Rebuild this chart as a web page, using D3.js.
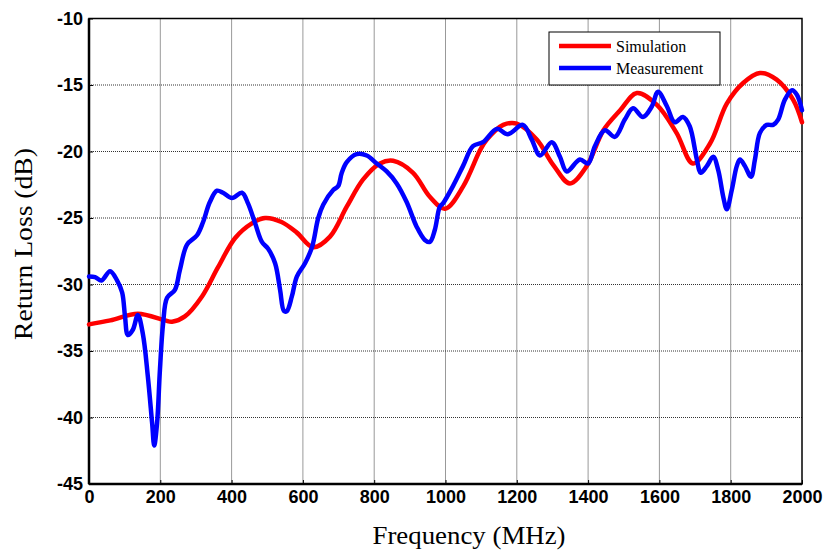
<!DOCTYPE html>
<html>
<head>
<meta charset="utf-8">
<script src="https://cdn.jsdelivr.net/npm/d3@7"></script>
<style>
  body { margin: 0; background: #fff; }
  .tick text { font-family: "Liberation Sans", Arial, sans-serif; font-weight: bold; font-size: 18px; fill: #000; }
</style>
</head>
<body>
<div id="chart"></div>
<script>
// simulated return loss (MHz, dB)
var simFreq = [0, 60, 137, 213, 233, 269, 317, 362, 410, 457, 494, 540, 583, 629, 676, 723, 769, 816, 853, 909, 956, 999, 1050, 1097, 1116, 1162, 1200, 1256, 1302, 1349, 1396, 1443, 1490, 1537, 1593, 1648, 1694, 1742, 1789, 1835, 1882, 1929, 1975, 2000];
var simDb = [-33.0, -32.7, -32.2, -32.7, -32.8, -32.4, -30.9, -28.7, -26.5, -25.4, -25.0, -25.3, -26.1, -27.2, -26.4, -24.15, -22.1, -20.9, -20.7, -21.6, -23.4, -24.3, -22.6, -19.9, -19.1, -18.0, -17.9, -19.1, -21.0, -22.4, -21.1, -18.4, -16.9, -15.6, -16.5, -18.6, -20.9, -19.4, -16.4, -14.85, -14.1, -14.6, -16.1, -17.8];

// measured return loss (MHz, dB)
var measFreq = [0, 17, 35, 59, 79, 93, 101, 109, 123, 137, 151, 165, 177, 183, 191, 199, 208, 219, 241, 255, 275, 303, 320, 339, 359, 376, 401, 429, 446, 466, 485, 502, 522, 536, 547, 555, 569, 583, 606, 626, 643, 657, 685, 699, 709, 723, 751, 779, 807, 835, 863, 891, 919, 942, 956, 970, 984, 993, 1021, 1049, 1077, 1105, 1144, 1175, 1217, 1242, 1265, 1298, 1321, 1340, 1377, 1400, 1419, 1447, 1475, 1503, 1526, 1554, 1579, 1596, 1621, 1643, 1666, 1685, 1705, 1716, 1733, 1751, 1765, 1779, 1789, 1803, 1817, 1826, 1840, 1857, 1868, 1882, 1901, 1919, 1933, 1952, 1972, 1986, 2000];
var measDb = [-29.4, -29.45, -29.7, -29.0, -29.7, -30.6, -32.4, -33.8, -33.4, -32.3, -33.7, -36.9, -40.4, -42.1, -40.4, -36.4, -32.9, -31.0, -30.4, -28.9, -27.0, -26.3, -25.3, -23.8, -22.95, -23.1, -23.5, -23.1, -23.9, -25.4, -26.8, -27.3, -28.4, -30.4, -32.0, -32.0, -30.9, -29.4, -28.4, -27.15, -25.0, -24.0, -22.9, -22.6, -21.6, -20.8, -20.2, -20.3, -20.9, -21.5, -22.4, -23.8, -25.65, -26.65, -26.8, -25.9, -24.15, -23.9, -22.6, -21.1, -19.6, -19.3, -18.3, -18.7, -18.0, -19.1, -20.3, -19.3, -20.4, -21.5, -20.6, -20.9, -19.6, -18.4, -18.9, -17.6, -16.75, -17.4, -16.6, -15.5, -16.6, -17.8, -17.4, -18.1, -20.6, -21.6, -21.1, -20.4, -21.4, -23.4, -24.35, -22.9, -21.1, -20.6, -21.1, -21.9, -20.6, -18.6, -18.0, -18.0, -17.6, -16.1, -15.4, -15.75, -16.9];

var xTicks = [0, 200, 400, 600, 800, 1000, 1200, 1400, 1600, 1800, 2000];
var yTicks = [-10, -15, -20, -25, -30, -35, -40, -45];
var seriesNames = ["Simulation", "Measurement"];
var seriesColors = ["#ff0000", "#0000ff"];

var margin = {top: 18.5, right: 25, bottom: 67, left: 89},
    width = 827 - margin.left - margin.right,
    height = 551 - margin.top - margin.bottom;

var svg = d3.select("#chart").append("svg")
    .attr("width", 827)
    .attr("height", 551)
  .append("g")
    .attr("transform", "translate(" + margin.left + "," + margin.top + ")");

var x = d3.scaleLinear().domain([0, 2000]).range([0, width]);
var y = d3.scaleLinear().domain([-45, -10]).range([height, 0]);

// plain labels: hyphen minus, no thousands separator
var plain = function(d) { return String(d); };

// grid
svg.append("g")
  .selectAll("line")
  .data(xTicks.slice(1, -1))
  .enter().append("line")
    .attr("x1", function(d) { return x(d); })
    .attr("x2", function(d) { return x(d); })
    .attr("y1", 0).attr("y2", height)
    .attr("stroke", "#333").attr("stroke-width", 1).attr("stroke-dasharray", "1,1");
svg.append("g")
  .selectAll("line")
  .data(yTicks.slice(1, -1))
  .enter().append("line")
    .attr("x1", 0).attr("x2", width)
    .attr("y1", function(d) { return y(d); })
    .attr("y2", function(d) { return y(d); })
    .attr("stroke", "#333").attr("stroke-width", 1).attr("stroke-dasharray", "1,1");

// axes
var xAxis = svg.append("g")
  .attr("transform", "translate(0," + height + ")")
  .call(d3.axisBottom(x).tickValues(xTicks).tickFormat(plain).tickSizeInner(-4).tickSizeOuter(0).tickPadding(9));
var yAxis = svg.append("g")
  .call(d3.axisLeft(y).tickValues(yTicks).tickFormat(plain).tickSizeInner(-4).tickSizeOuter(0).tickPadding(6));
[xAxis, yAxis].forEach(function(a) {
  a.select(".domain").remove();
  a.selectAll(".tick line").attr("stroke", "#000");
});
xAxis.selectAll(".tick text").attr("dy", "0.55em");

// frame
svg.append("rect")
  .attr("width", width).attr("height", height)
  .attr("fill", "none").attr("stroke", "#000").attr("stroke-width", 1.5);
svg.append("line").attr("x1", 0).attr("x2", 0).attr("y1", 0).attr("y2", height)
  .attr("stroke", "#000").attr("stroke-width", 2.5);
svg.append("line").attr("x1", 0).attr("x2", width).attr("y1", height).attr("y2", height)
  .attr("stroke", "#000").attr("stroke-width", 2.5);

// curves
var line = d3.line()
  .x(function(d) { return x(d[0]); })
  .y(function(d) { return y(d[1]); })
  .curve(d3.curveCatmullRom.alpha(0.5));

var simData = d3.zip(simFreq, simDb);
var measData = d3.zip(measFreq, measDb);

svg.append("path").datum(simData)
  .attr("d", line).attr("fill", "none")
  .attr("stroke", seriesColors[0]).attr("stroke-width", 4.5)
  .attr("stroke-linejoin", "round").attr("stroke-linecap", "round");
svg.append("path").datum(measData)
  .attr("d", line).attr("fill", "none")
  .attr("stroke", seriesColors[1]).attr("stroke-width", 4.5)
  .attr("stroke-linejoin", "round").attr("stroke-linecap", "round");

// axis titles
svg.append("text")
  .attr("x", 469 - margin.left).attr("y", height + 60)
  .attr("text-anchor", "middle")
  .attr("textLength", 193).attr("lengthAdjust", "spacingAndGlyphs")
  .style("font-family", "'Liberation Serif', 'Times New Roman', serif")
  .style("font-size", "26px")
  .text("Frequency (MHz)");
svg.append("text")
  .attr("transform", "rotate(-90)")
  .attr("x", -(244 - margin.top)).attr("y", -57)
  .attr("text-anchor", "middle")
  .attr("textLength", 192).attr("lengthAdjust", "spacingAndGlyphs")
  .style("font-family", "'Liberation Serif', 'Times New Roman', serif")
  .style("font-size", "26px")
  .text("Return Loss (dB)");

// legend
var legend = svg.append("g").attr("transform", "translate(" + (549 - margin.left) + "," + (32 - margin.top) + ")");
legend.append("rect")
  .attr("width", 171).attr("height", 53)
  .attr("fill", "#fff").attr("stroke", "#000").attr("stroke-width", 1);
seriesNames.forEach(function(name, i) {
  legend.append("line")
    .attr("x1", 10).attr("x2", 62)
    .attr("y1", 14 + i * 22).attr("y2", 14 + i * 22)
    .attr("stroke", seriesColors[i]).attr("stroke-width", 4.5);
  legend.append("text")
    .attr("x", 67).attr("y", 14 + i * 22).attr("dy", "0.35em")
    .style("font-family", "'Liberation Serif', 'Times New Roman', serif")
    .style("font-size", "16px")
    .text(name);
});
</script>
</body>
</html>
